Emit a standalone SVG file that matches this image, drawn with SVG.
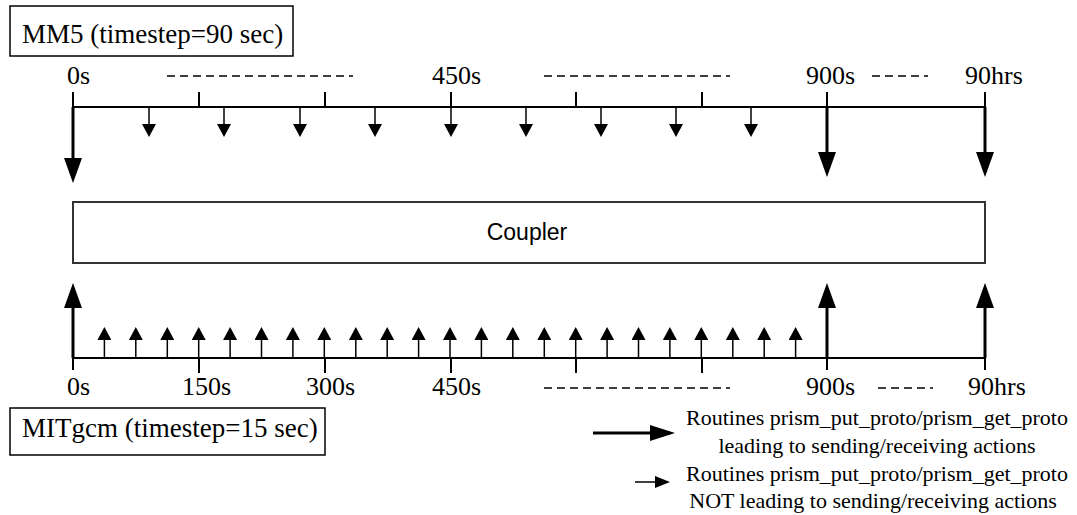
<svg xmlns="http://www.w3.org/2000/svg" width="1077" height="515" viewBox="0 0 1077 515">
<style>
.lbl{font-family:"Liberation Serif","Times New Roman",serif;font-size:26px;fill:#000}
.blbl{font-family:"Liberation Serif","Times New Roman",serif;font-size:27px;fill:#000}
.leg{font-family:"Liberation Serif","Times New Roman",serif;font-size:22px;fill:#000;text-anchor:middle}
.box{fill:#fff;stroke:#000;stroke-width:1.5}
.cbox{fill:#fff;stroke:#333;stroke-width:2}
.axis{stroke:#000;stroke-width:2;fill:none}
.tick{stroke:#000;stroke-width:2}
.big{stroke:#000;stroke-width:3;marker-end:url(#mb)}
.small{stroke:#000;stroke-width:1.5;marker-end:url(#ms)}
.dash{stroke:#000;stroke-width:1.5;stroke-dasharray:8 5}
</style>
<defs>
<marker id="mb" markerUnits="userSpaceOnUse" viewBox="0 0 25 18" markerWidth="25" markerHeight="18" refX="20" refY="9" orient="auto"><path d="M0,0 L25,9 L0,18 Z" fill="#000"/></marker>
<marker id="ms" markerUnits="userSpaceOnUse" viewBox="0 0 13 14" markerWidth="13" markerHeight="14" refX="10" refY="7" orient="auto"><path d="M0,0 L13,7 L0,14 Z" fill="#000"/></marker>
<marker id="mbl" markerUnits="userSpaceOnUse" viewBox="0 0 25 16" markerWidth="25" markerHeight="16" refX="20" refY="8" orient="auto"><path d="M0,0 L25,8 L0,16 Z" fill="#000"/></marker>
<marker id="msl" markerUnits="userSpaceOnUse" viewBox="0 0 15 12" markerWidth="15" markerHeight="12" refX="12" refY="6" orient="auto"><path d="M0,0 L15,6 L0,12 Z" fill="#000"/></marker>
</defs>
<rect width="1077" height="515" fill="#fff"/>

<g id="mm5">
<rect class="box" x="10" y="6" width="283" height="50"/>
<text class="blbl" x="22" y="43">MM5 (timestep=90 sec)</text>
</g>

<g id="mm5-timeline">
<line class="axis" x1="73" y1="107" x2="985" y2="107"/>
<line class="tick" x1="73" y1="92" x2="73" y2="107"/>
<line class="tick" x1="199" y1="92" x2="199" y2="107"/>
<line class="tick" x1="325" y1="92" x2="325" y2="107"/>
<line class="tick" x1="451" y1="92" x2="451" y2="107"/>
<line class="tick" x1="576" y1="92" x2="576" y2="107"/>
<line class="tick" x1="702" y1="92" x2="702" y2="107"/>
<line class="tick" x1="827" y1="92" x2="827" y2="107"/>
<line class="tick" x1="985" y1="92" x2="985" y2="107"/>
<text class="lbl" x="67" y="84">0s</text>
<text class="lbl" x="432" y="84">450s</text>
<text class="lbl" x="806" y="84">900s</text>
<text class="lbl" x="965" y="84">90hrs</text>
<line class="dash" x1="167" y1="76" x2="353" y2="76"/>
<line class="dash" x1="544" y1="76" x2="730" y2="76"/>
<line class="dash" x1="872" y1="76" x2="928" y2="76"/>
</g>

<g id="coupler">
<rect class="cbox" x="73" y="202" width="912" height="61"/>
<text x="527" y="240" text-anchor="middle" font-family="Liberation Sans, Arial, sans-serif" font-size="23">Coupler</text>
</g>

<g id="mitgcm-timeline">
<line class="axis" x1="73" y1="358" x2="985" y2="358"/>
<line class="tick" x1="73" y1="358" x2="73" y2="370"/>
<line class="tick" x1="199" y1="358" x2="199" y2="373"/>
<line class="tick" x1="325" y1="358" x2="325" y2="373"/>
<line class="tick" x1="451" y1="358" x2="451" y2="373"/>
<line class="tick" x1="576" y1="358" x2="576" y2="373"/>
<line class="tick" x1="702" y1="358" x2="702" y2="373"/>
<line class="tick" x1="827" y1="358" x2="827" y2="370"/>
<line class="tick" x1="985" y1="358" x2="985" y2="370"/>
<text class="lbl" x="67" y="395">0s</text>
<text class="lbl" x="182" y="395">150s</text>
<text class="lbl" x="306" y="395">300s</text>
<text class="lbl" x="432" y="395">450s</text>
<text class="lbl" x="806" y="395">900s</text>
<text class="lbl" x="968" y="395">90hrs</text>
<line class="dash" x1="544" y1="388" x2="730" y2="388"/>
<line class="dash" x1="878" y1="388" x2="933" y2="388"/>
</g>

<g id="mitgcm">
<rect class="box" x="10" y="408" width="315" height="47"/>
<text class="blbl" x="22" y="437">MITgcm (timestep=15 sec)</text>
</g>

<g id="connectors">
<line class="big" x1="73" y1="107" x2="73" y2="178"/>
<line class="big" x1="827" y1="107" x2="827" y2="172"/>
<line class="big" x1="985" y1="107" x2="985" y2="172"/>
<line class="small" x1="149" y1="107" x2="149" y2="134"/>
<line class="small" x1="224" y1="107" x2="224" y2="134"/>
<line class="small" x1="300" y1="107" x2="300" y2="134"/>
<line class="small" x1="375" y1="107" x2="375" y2="134"/>
<line class="small" x1="451" y1="107" x2="451" y2="134"/>
<line class="small" x1="526" y1="107" x2="526" y2="134"/>
<line class="small" x1="601" y1="107" x2="601" y2="134"/>
<line class="small" x1="676" y1="107" x2="676" y2="134"/>
<line class="small" x1="751" y1="107" x2="751" y2="134"/>
<line class="big" x1="73" y1="358" x2="73" y2="288"/>
<line class="big" x1="827" y1="358" x2="827" y2="288"/>
<line class="big" x1="985" y1="358" x2="985" y2="288"/>
<line class="small" x1="104.4" y1="358" x2="104.4" y2="330"/>
<line class="small" x1="135.8" y1="358" x2="135.8" y2="330"/>
<line class="small" x1="167.3" y1="358" x2="167.3" y2="330"/>
<line class="small" x1="198.7" y1="358" x2="198.7" y2="330"/>
<line class="small" x1="230.1" y1="358" x2="230.1" y2="330"/>
<line class="small" x1="261.5" y1="358" x2="261.5" y2="330"/>
<line class="small" x1="292.9" y1="358" x2="292.9" y2="330"/>
<line class="small" x1="324.3" y1="358" x2="324.3" y2="330"/>
<line class="small" x1="355.8" y1="358" x2="355.8" y2="330"/>
<line class="small" x1="387.2" y1="358" x2="387.2" y2="330"/>
<line class="small" x1="418.6" y1="358" x2="418.6" y2="330"/>
<line class="small" x1="450" y1="358" x2="450" y2="330"/>
<line class="small" x1="481.4" y1="358" x2="481.4" y2="330"/>
<line class="small" x1="512.8" y1="358" x2="512.8" y2="330"/>
<line class="small" x1="544.3" y1="358" x2="544.3" y2="330"/>
<line class="small" x1="575.7" y1="358" x2="575.7" y2="330"/>
<line class="small" x1="607.1" y1="358" x2="607.1" y2="330"/>
<line class="small" x1="638.5" y1="358" x2="638.5" y2="330"/>
<line class="small" x1="669.9" y1="358" x2="669.9" y2="330"/>
<line class="small" x1="701.3" y1="358" x2="701.3" y2="330"/>
<line class="small" x1="732.8" y1="358" x2="732.8" y2="330"/>
<line class="small" x1="764.2" y1="358" x2="764.2" y2="330"/>
<line class="small" x1="795.6" y1="358" x2="795.6" y2="330"/>
</g>

<g id="legend">
<line x1="593" y1="433" x2="670" y2="433" stroke="#000" stroke-width="3" marker-end="url(#mbl)"/>
<line x1="635" y1="482" x2="667" y2="482" stroke="#000" stroke-width="1.5" marker-end="url(#msl)"/>
<text class="leg" x="877" y="425">Routines prism_put_proto/prism_get_proto</text>
<text class="leg" x="877" y="453">leading to sending/receiving actions</text>
<text class="leg" x="877" y="481">Routines prism_put_proto/prism_get_proto</text>
<text class="leg" x="873" y="508">NOT leading to sending/receiving actions</text>
</g>
</svg>
